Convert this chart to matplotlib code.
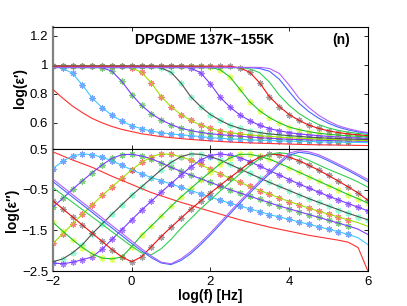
import numpy as np
import matplotlib
matplotlib.use("Agg")
import matplotlib.pyplot as plt

plt.rcParams['font.family'] = ['Liberation Sans', 'DejaVu Sans']

# log10 frequency grid (every 0.25 decade)
logf = np.arange(-2, 6.01, 0.25)

# log(eps')
e1_c0 = [0.83, 0.77, 0.715, 0.67, 0.63, 0.60, 0.575, 0.555, 0.54, 0.525, 0.515, 0.505, 0.498, 0.492, 0.486, 0.481, 0.476,
         0.472, 0.468, 0.465, 0.462, 0.46, 0.458, 0.456, 0.454, 0.452, 0.45, 0.449, 0.448, 0.447, 0.446, 0.445, 0.444]
e1_c1 = [0.99, 0.976, 0.94, 0.86, 0.77, 0.705, 0.652, 0.612, 0.58, 0.56, 0.543, 0.532, 0.524, 0.518, 0.512, 0.506, 0.498,
         0.494, 0.49, 0.487, 0.483, 0.481, 0.479, 0.477, 0.475, 0.473, 0.472, 0.47, 0.469, 0.467, 0.466, 0.465, 0.464]
e1_c2 = [0.99, 0.99, 0.99, 0.99, 0.99, 0.98, 0.955, 0.885, 0.795, 0.72, 0.663, 0.62, 0.588, 0.563, 0.547, 0.534, 0.525,
         0.519, 0.513, 0.508, 0.503, 0.498, 0.494, 0.49, 0.487, 0.485, 0.483, 0.481, 0.479, 0.477, 0.476, 0.474, 0.473]
e1_c3 = [0.99, 0.99, 0.99, 0.99, 0.99, 0.99, 0.99, 0.99, 0.978, 0.948, 0.875, 0.78, 0.712, 0.657, 0.617, 0.584, 0.562,
         0.545, 0.533, 0.524, 0.518, 0.512, 0.507, 0.502, 0.498, 0.495, 0.492, 0.489, 0.486, 0.484, 0.482, 0.48, 0.478]
e1_c4 = [0.99, 0.99, 0.99, 0.99, 0.99, 0.99, 0.99, 0.99, 0.99, 0.99, 0.99, 0.978, 0.948, 0.875, 0.78, 0.712, 0.657,
         0.617, 0.584, 0.562, 0.545, 0.533, 0.524, 0.518, 0.512, 0.507, 0.502, 0.498, 0.495, 0.492, 0.489, 0.487, 0.485]
e1_c5 = [0.99, 0.99, 0.99, 0.99, 0.99, 0.99, 0.99, 0.99, 0.99, 0.99, 0.99, 0.99, 0.99, 0.99, 0.977, 0.945, 0.868,
         0.775, 0.708, 0.654, 0.615, 0.583, 0.561, 0.545, 0.533, 0.524, 0.518, 0.512, 0.507, 0.503, 0.499, 0.496, 0.493]
e1_c6 = [0.99, 0.99, 0.99, 0.99, 0.99, 0.99, 0.99, 0.99, 0.99, 0.99, 0.99, 0.99, 0.99, 0.99, 0.99, 0.99, 0.982,
         0.965, 0.915, 0.83, 0.745, 0.683, 0.636, 0.6, 0.571, 0.553, 0.539, 0.529, 0.521, 0.516, 0.511, 0.507, 0.503]
e1_c7 = [0.99, 0.99, 0.99, 0.99, 0.99, 0.99, 0.99, 0.99, 0.99, 0.99, 0.99, 0.99, 0.99, 0.99, 0.99, 0.99, 0.99,
         0.99, 0.99, 0.978, 0.948, 0.875, 0.78, 0.712, 0.657, 0.617, 0.584, 0.562, 0.545, 0.533, 0.524, 0.518, 0.512]
e1_c8 = [0.98, 0.98, 0.98, 0.98, 0.98, 0.98, 0.98, 0.98, 0.98, 0.98, 0.98, 0.98, 0.98, 0.98, 0.98, 0.98, 0.98,
         0.98, 0.98, 0.98, 0.972, 0.945, 0.88, 0.79, 0.72, 0.664, 0.622, 0.588, 0.565, 0.548, 0.536, 0.527, 0.52]
e1_c9 = [0.98, 0.98, 0.98, 0.98, 0.98, 0.98, 0.98, 0.98, 0.98, 0.98, 0.98, 0.98, 0.98, 0.98, 0.98, 0.98, 0.98,
         0.98, 0.98, 0.98, 0.98, 0.974, 0.955, 0.9, 0.815, 0.735, 0.677, 0.632, 0.597, 0.57, 0.551, 0.538, 0.528]
e1_c10 = [0.982, 0.982, 0.982, 0.982, 0.982, 0.982, 0.982, 0.982, 0.982, 0.982, 0.982, 0.982, 0.982, 0.982, 0.982, 0.982, 0.982,
          0.982, 0.982, 0.982, 0.982, 0.982, 0.974, 0.94, 0.86, 0.77, 0.705, 0.652, 0.612, 0.58, 0.56, 0.544, 0.533]

# log(eps'')
e2_c0 = [0.43, 0.33, 0.23, 0.14, 0.05, -0.06, -0.17, -0.27, -0.37, -0.47, -0.57, -0.65, -0.73, -0.81, -0.88, -0.96, -1.03,
         -1.10, -1.17, -1.24, -1.30, -1.36, -1.42, -1.47, -1.52, -1.57, -1.62, -1.66, -1.70, -1.74, -1.79, -1.92, -2.5]
e2_c1 = [0.02, 0.2, 0.33, 0.38, 0.36, 0.30, 0.21, 0.10, -0.01, -0.11, -0.2, -0.28, -0.36, -0.44, -0.52, -0.6, -0.68,
         -0.76, -0.83, -0.9, -0.97, -1.04, -1.11, -1.17, -1.23, -1.29, -1.35, -1.41, -1.47, -1.53, -1.6, -1.68, -1.85]
e2_c2 = [-0.93, -0.71, -0.49, -0.28, -0.08, 0.11, 0.27, 0.36, 0.37, 0.33, 0.26, 0.16, 0.05, -0.05, -0.14, -0.23, -0.32,
         -0.41, -0.5, -0.58, -0.66, -0.74, -0.82, -0.9, -0.97, -1.04, -1.11, -1.18, -1.25, -1.32, -1.39, -1.47, -1.6]
e2_c3 = [-1.82, -1.58, -1.34, -1.1, -0.87, -0.64, -0.43, -0.22, -0.01, 0.17, 0.31, 0.38, 0.37, 0.31, 0.23, 0.12, 0.0,
         -0.11, -0.22, -0.32, -0.42, -0.52, -0.61, -0.7, -0.79, -0.87, -0.95, -1.03, -1.1, -1.17, -1.24, -1.31, -1.4]
e2_c4 = [-2.27, -2.2, -2.05, -1.85, -1.58, -1.34, -1.1, -0.87, -0.64, -0.43, -0.22, -0.01, 0.17, 0.31, 0.38, 0.37, 0.31,
         0.23, 0.12, 0.01, -0.1, -0.21, -0.32, -0.42, -0.52, -0.62, -0.72, -0.81, -0.9, -0.99, -1.08, -1.16, -1.24]
e2_c5 = [-2.3, -2.32, -2.28, -2.22, -2.15, -1.96, -1.72, -1.48, -1.24, -1.0, -0.78, -0.56, -0.35, -0.14, 0.06, 0.23, 0.34,
         0.38, 0.35, 0.29, 0.19, 0.08, -0.03, -0.14, -0.25, -0.36, -0.46, -0.56, -0.66, -0.75, -0.84, -0.93, -1.02]
e2_c6 = [-1.3, -1.52, -1.73, -1.92, -2.08, -2.18, -2.2, -2.15, -1.9, -1.62, -1.39, -1.15, -0.91, -0.68, -0.47, -0.26, -0.06,
         0.14, 0.28, 0.37, 0.37, 0.32, 0.25, 0.15, 0.04, -0.07, -0.18, -0.29, -0.4, -0.51, -0.62, -0.72, -0.83]
e2_c7 = [-0.77, -0.97, -1.17, -1.37, -1.57, -1.77, -1.97, -2.15, -2.27, -2.15, -1.9, -1.65, -1.42, -1.2, -0.98, -0.78, -0.58,
         -0.39, -0.2, -0.02, 0.17, 0.3, 0.37, 0.36, 0.3, 0.21, 0.1, -0.02, -0.15, -0.29, -0.43, -0.58, -0.76]
e2_c8 = [-0.45, -0.63, -0.81, -0.99, -1.17, -1.35, -1.53, -1.71, -1.89, -2.05, -2.1, -1.95, -1.72, -1.45, -1.21, -0.97, -0.75,
         -0.53, -0.32, -0.11, 0.09, 0.26, 0.37, 0.41, 0.38, 0.32, 0.22, 0.11, 0.0, -0.1, -0.2, -0.31, -0.44]
e2_c9 = [-0.3, -0.49, -0.68, -0.87, -1.06, -1.25, -1.44, -1.63, -1.82, -2.0, -2.17, -2.3, -2.34, -2.24, -2.07, -1.85, -1.61,
         -1.35, -1.09, -0.83, -0.58, -0.34, -0.11, 0.13, 0.35, 0.42, 0.39, 0.32, 0.21, 0.09, -0.03, -0.16, -0.3]
e2_c10 = [-0.24, -0.43, -0.62, -0.81, -1.0, -1.19, -1.38, -1.57, -1.76, -1.95, -2.13, -2.28, -2.32, -2.2, -2.02, -1.8, -1.56,
          -1.3, -1.04, -0.78, -0.53, -0.29, -0.06, 0.18, 0.4, 0.46, 0.43, 0.36, 0.25, 0.13, 0.01, -0.12, -0.25]

eps1 = [e1_c0, e1_c1, e1_c2, e1_c3, e1_c4, e1_c5, e1_c6, e1_c7, e1_c8, e1_c9, e1_c10]
eps2 = [e2_c0, e2_c1, e2_c2, e2_c3, e2_c4, e2_c5, e2_c6, e2_c7, e2_c8, e2_c9, e2_c10]

# star colour (None = line only) and line colour for each temperature
star_cols = [None, '#4f7dff', '#4cc04c', '#ff4d4d', '#66ffc2', '#8a4dff', '#d9ff33', '#808080', None, None, None]
line_cols = ['#ff3030', '#40c8ff', '#7a3dff', '#9ee000', '#505050', '#7a3dff', '#20c030', '#ee1010', '#30d050', '#4466ff', '#b060ff']
star_end = [0, 31, 31, 31, 33, 33, 33, 33, 0, 0, 0]

fig = plt.figure(figsize=(4.07, 3.06), dpi=100)
ax1 = fig.add_axes([0.130, 0.513, 0.774, 0.399])
ax2 = fig.add_axes([0.130, 0.114, 0.774, 0.399])

ast = (8, 2, 0)
for ax, data in ((ax1, eps1), (ax2, eps2)):
    for k in range(len(data)):
        y = np.array(data[k])
        if star_cols[k] is not None:
            n = star_end[k]
            ax.plot(logf[:n], y[:n], ls='none', marker=ast, ms=4.5, mew=0.8,
                    color=star_cols[k], alpha=0.75, zorder=2)
        ax.plot(logf, y, color=line_cols[k], lw=0.8, zorder=3)

for ax in (ax1, ax2):
    ax.set_xlim(-2, 6)
    ax.set_xticks([-2, 0, 2, 4, 6])
    ax.tick_params(direction='in', length=3, width=0.6, top=True, right=True, labelsize=9.5)
    for s in ax.spines.values():
        s.set_linewidth(0.8)
    ax.spines['left'].set_color('#808080')
    ax.spines['left'].set_linewidth(1.6)

ax1.set_ylim(0.42, 1.26)
ax1.set_yticks([0.6, 0.8, 1.0, 1.2])
ax1.set_yticklabels(['0.6', '0.8', '1', '1.2'])
ax1.tick_params(labelbottom=False)
ax1.set_ylabel("log(\u03b5\u2032)", fontsize=10, fontweight='bold', labelpad=2)
ax1.text(0.48, 0.89, "DPGDME 137K\u2013155K", transform=ax1.transAxes, ha='center', va='center',
         fontsize=10, fontweight='bold')
ax1.text(0.915, 0.89, "(n)", transform=ax1.transAxes, ha='center', va='center',
         fontsize=10, fontweight='bold')

ax2.set_ylim(-2.5, 0.5)
ax2.set_yticks([-2.5, -1.5, -0.5, 0.5])
ax2.set_yticklabels(['\u22122.5', '\u22121.5', '\u22120.5', '0.5'])
ax2.set_xticklabels(['\u22122', '0', '2', '4', '6'])
ax2.set_ylabel("log(\u03b5\u2032\u2032)", fontsize=10, fontweight='bold', labelpad=2)
ax2.set_xlabel("log(f) [Hz]", fontsize=10, fontweight='bold', labelpad=1)

fig.savefig("out.png", dpi=100)
